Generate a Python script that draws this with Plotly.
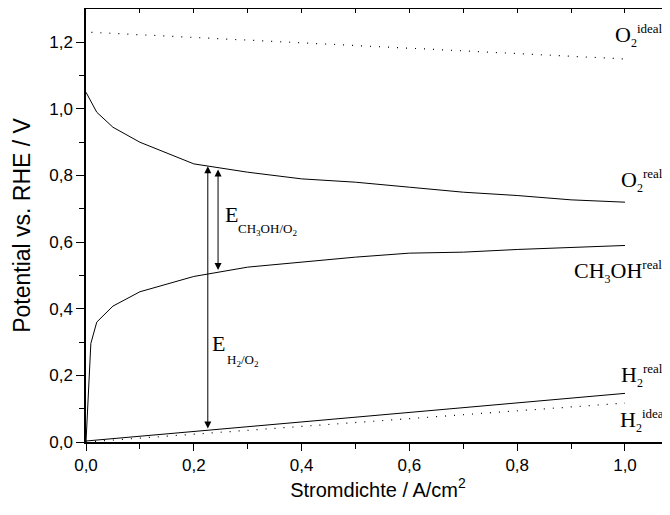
import plotly.graph_objects as go

# --- data ---
o2_ideal_x = [0.01, 1.0]
o2_ideal_y = [1.23, 1.15]

o2_real_x = [0.0, 0.02, 0.05, 0.1, 0.2, 0.3, 0.4, 0.5, 0.6, 0.7, 0.8, 0.9, 1.0]
o2_real_y = [1.05, 0.99, 0.945, 0.90, 0.835, 0.81, 0.79, 0.78, 0.765, 0.75, 0.74, 0.727, 0.72]

ch3oh_real_x = [0.0, 0.009, 0.02, 0.05, 0.1, 0.2, 0.3, 0.4, 0.5, 0.6, 0.7, 0.8, 0.9, 1.0]
ch3oh_real_y = [0.0, 0.296, 0.36, 0.408, 0.451, 0.497, 0.525, 0.54, 0.555, 0.567, 0.570, 0.578, 0.585, 0.59]

h2_real_x = [0.0, 1.0]
h2_real_y = [0.003, 0.146]

h2_ideal_x = [0.0, 1.0]
h2_ideal_y = [0.0, 0.117]

# double arrows: x, bottom, top
arrow_x = [0.226, 0.245]
arrow_y0 = [0.036, 0.512]
arrow_y1 = [0.828, 0.818]

x_range = [0, 1.0835]
y_range = [0, 1.30]

serif = "Liberation Serif, Times New Roman, serif"
sans = "Liberation Sans, Arial, sans-serif"

fig = go.Figure()
solid = dict(color="black", width=1)
dotted = dict(color="black", width=1.2, dash="1px,8px")

fig.add_trace(go.Scatter(x=o2_ideal_x, y=o2_ideal_y, mode="lines", line=dotted))
fig.add_trace(go.Scatter(x=o2_real_x, y=o2_real_y, mode="lines", line=solid))
fig.add_trace(go.Scatter(x=ch3oh_real_x, y=ch3oh_real_y, mode="lines", line=solid))
fig.add_trace(go.Scatter(x=h2_real_x, y=h2_real_y, mode="lines", line=solid))
fig.add_trace(go.Scatter(x=h2_ideal_x, y=h2_ideal_y, mode="lines", line=dotted))
# invisible trace for the top axis
fig.add_trace(go.Scatter(x=[x_range[0]], y=[y_range[0]], xaxis="x2", mode="markers",
                         marker=dict(opacity=0), hoverinfo="skip"))

anns = []
for xa, y0, y1 in zip(arrow_x, arrow_y0, arrow_y1):
    anns.append(dict(x=xa, y=y1, ax=xa, ay=y0, xref="x", yref="y", axref="x", ayref="y",
                     text="", showarrow=True, arrowhead=2, arrowside="end+start",
                     arrowsize=1.4, arrowwidth=1, arrowcolor="black"))

sub_s = "<span style='font-size:12px'>%s</span>"
sup_s = "<span style='font-size:13px'>%s</span>"


def lab(x, y, text, size=22):
    return dict(x=x, y=y, xref="x", yref="y", text=text, showarrow=False,
                xanchor="left", yanchor="middle", borderpad=0, borderwidth=0,
                font=dict(family=serif, size=size, color="black"))


anns.append(lab(0.982, 1.219, "O<sub>" + sub_s % "2" + "</sub><sup>" + sup_s % "ideal" + "</sup>"))
anns.append(lab(0.992, 0.785, "O<sub>" + sub_s % "2" + "</sub><sup>" + sup_s % "real" + "</sup>"))
anns.append(lab(0.905, 0.512, "CH<sub>" + sub_s % "3" + "</sub>OH<sup>" + sup_s % "real" + "</sup>"))
anns.append(lab(0.993, 0.2, "H<sub>" + sub_s % "2" + "</sub><sup>" + sup_s % "real" + "</sup>"))
anns.append(lab(0.99, 0.065, "H<sub>" + sub_s % "2" + "</sub><sup>" + sup_s % "ideal" + "</sup>"))

# E labels: main letter plus a lowered subscript
anns.append(lab(0.258, 0.683, "E"))
anns.append(lab(0.282, 0.637, "CH<sub>3</sub>OH/O<sub>2</sub>", size=13))
anns.append(lab(0.233, 0.296, "E"))
anns.append(lab(0.261, 0.246, "H<sub>2</sub>/O<sub>2</sub>", size=13))

# the page adds an 8px body margin, so the figure is sized/offset to land
# on the same screen pixels as the reference
fig.update_layout(
    width=662, height=507,
    margin=dict(l=78, r=0, t=1, b=73),
    paper_bgcolor="white", plot_bgcolor="white",
    showlegend=False,
    separators=",.",
    annotations=anns,
    font=dict(family=sans, size=17, color="black"),
    xaxis=dict(range=x_range, showgrid=False, zeroline=False,
               showline=True, linecolor="black", linewidth=1.5,
               ticks="outside", ticklen=7, tickwidth=1.2, tickcolor="black",
               tickmode="array", tickvals=[0, 0.2, 0.4, 0.6, 0.8, 1.0],
               tickformat=".1f",
               minor=dict(tickmode="array", tickvals=[0.1, 0.3, 0.5, 0.7, 0.9],
                          ticks="outside", ticklen=5, tickcolor="black", tickwidth=1.2),
               title=dict(text="Stromdichte / A/cm<sup>2</sup>", standoff=2,
                          font=dict(family=sans, size=20))),
    xaxis2=dict(range=x_range, overlaying="x", side="top", showgrid=False, zeroline=False,
                showline=True, linecolor="black", linewidth=1.8,
                ticks="inside", ticklen=4, tickcolor="black", tickwidth=1,
                tickvals=[0.1, 0.2, 0.3, 0.4, 0.5, 0.6, 0.7, 0.8, 0.9, 1.0],
                showticklabels=False),
    yaxis=dict(range=y_range, showgrid=False, zeroline=False,
               showline=True, linecolor="black", linewidth=1.5,
               ticks="outside", ticklen=8, tickwidth=1.2, tickcolor="black",
               tickmode="array", tickvals=[0, 0.2, 0.4, 0.6, 0.8, 1.0, 1.2],
               tickformat=".1f",
               minor=dict(tickmode="array", tickvals=[0.1, 0.3, 0.5, 0.7, 0.9, 1.1],
                          ticks="outside", ticklen=5, tickcolor="black", tickwidth=1.2),
               title=dict(text="Potential vs. RHE / V", standoff=12,
                          font=dict(family=sans, size=23))),
)

fig.write_html("out.html")
